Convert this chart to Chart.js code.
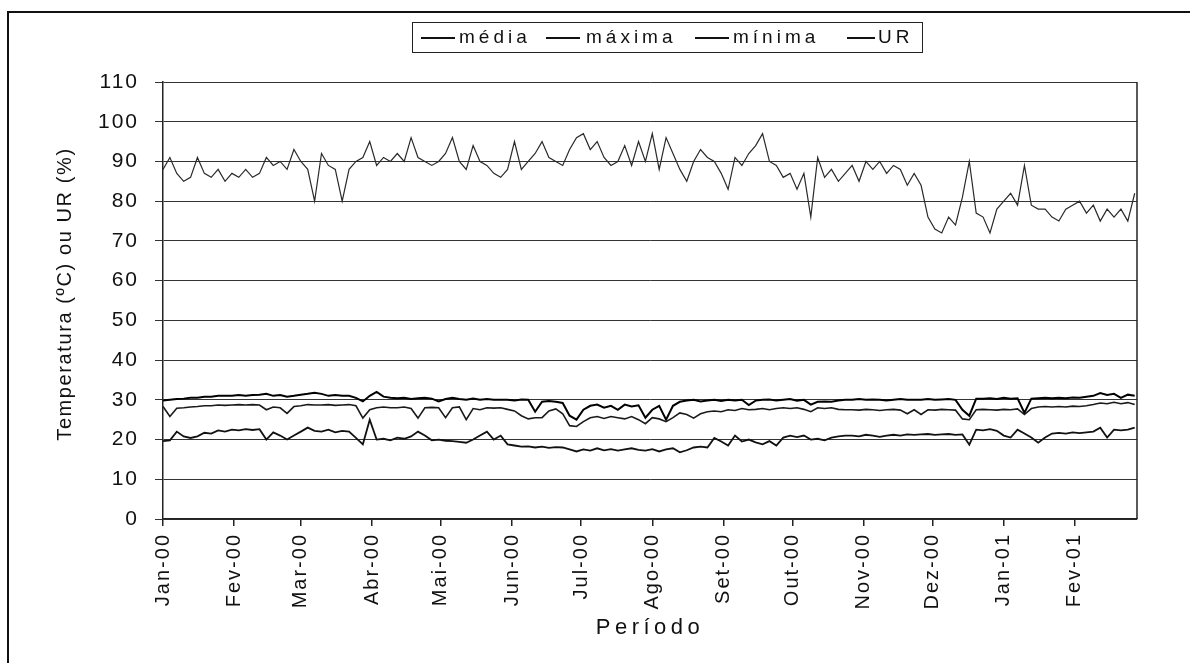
<!DOCTYPE html>
<html lang="pt">
<head>
<meta charset="utf-8">
<title>Temperatura e UR</title>
<script src="https://cdn.jsdelivr.net/npm/chart.js@4.4.1/dist/chart.umd.min.js"></script>
<style>
  body { margin: 0; background: #fff; font-family: Arial, "Liberation Sans", sans-serif; color: #111; }
  #wrap { position: relative; width: 1190px; height: 663px; overflow: hidden; }
  #chart { position: absolute; left: 0; top: 0; }
  .frame { position: absolute; left: 7px; top: 11px; width: 1200px; height: 700px;
           border-top: 2px solid #111; border-left: 2px solid #111; }
  .legend { position: absolute; left: 412px; top: 22px; width: 509px; height: 29px;
            border: 1.5px solid #222; }
  .legend .ln { position: absolute; top: 14px; height: 1.5px; background: #111; }
  .legend .tx { position: absolute; top: 3px; font-size: 19px; letter-spacing: 4px; line-height: 22px; }
  .ytitle { position: absolute; left: 64px; top: 294px; transform: translate(-50%, -50%) rotate(-90deg);
            white-space: nowrap; font-size: 20px; letter-spacing: 1.6px; }
  .xtitle { position: absolute; left: 650px; top: 627px; transform: translate(-50%, -50%);
            white-space: nowrap; font-size: 22px; letter-spacing: 4.5px; }
</style>
</head>
<body>
<div id="wrap">
  <canvas id="chart" width="1190" height="663"></canvas>
  <div class="frame"></div>
  <div class="legend">
    <div class="ln" style="left:8px;width:34px"></div><div class="tx" style="left:46px">média</div>
    <div class="ln" style="left:133px;width:34px"></div><div class="tx" style="left:173px">máxima</div>
    <div class="ln" style="left:282px;width:34px"></div><div class="tx" style="left:320px">mínima</div>
    <div class="ln" style="left:434px;width:28px"></div><div class="tx" style="left:465px">UR</div>
  </div>
  <div class="ytitle">Temperatura (ºC) ou UR (%)</div>
  <div class="xtitle">Período</div>
</div>

<script>
// month ticks (day offset from 1 Jan 2000)
const monthLabels = ['Jan-00','Fev-00','Mar-00','Abr-00','Mai-00','Jun-00','Jul-00','Ago-00','Set-00','Out-00','Nov-00','Dez-00','Jan-01','Fev-01'];
const monthStart = [0,31,60,91,121,152,182,213,244,274,305,335,366,397];

// sampled days
const days = [
  0,3,6,9,12,15,18,21,24,27, 30,33,36,39,42,45,48,51,54,57,
  60,63,66,69,72,75,78,81,84,87, 90,93,96,99,102,105,108,111,114,117,
  120,123,126,129,132,135,138,141,144,147, 150,153,156,159,162,165,168,171,174,177,
  180,183,186,189,192,195,198,201,204,207, 210,213,216,219,222,225,228,231,234,237,
  240,243,246,249,252,255,258,261,264,267, 270,273,276,279,282,285,288,291,294,297,
  300,303,306,309,312,315,318,321,324,327, 330,333,336,339,342,345,348,351,354,357,
  360,363,366,369,372,375,378,381,384,387, 390,393,396,399,402,405,408,411,414,417,
  420,423
];

const media = [
  28.3,25.8,27.9,28,28.2,28.3,28.5,28.5,28.7,28.6, 28.7,28.8,28.7,28.8,28.7,27.5,28.2,28,26.6,28.3,
  28.5,28.8,28.7,28.7,28.8,28.6,28.7,28.8,28.5,25.4, 27.5,28,28.2,28,28,28.2,27.8,25.4,28,28.1,
  28,25.5,28,28.2,25,27.8,27.5,28,27.9,28, 27.6,27.2,26,25.2,25.5,25.5,27.2,27.7,26.5,23.5,
  23.3,24.5,25.5,25.8,25.3,25.8,25.5,25.2,25.8,25, 24,25.5,25.2,24.5,25.5,26.7,26.3,25.4,26.5,27,
  27.2,27,27.5,27.3,27.8,27.5,27.6,27.8,27.5,27.8, 28,27.8,28,27.6,27,28,27.8,28,27.6,27.5,
  27.5,27.4,27.6,27.5,27.3,27.5,27.6,27.4,26.5,27.5, 26.3,27.5,27.4,27.6,27.5,27.4,25.2,25,27.5,27.6,
  27.5,27.4,27.6,27.5,27.7,26.3,27.8,28.2,28.3,28.2, 28.3,28.2,28.4,28.3,28.5,28.8,29.2,29,29.4,29,
  29.3,28.8
];

const maxima = [
  29.8,30,30.2,30.3,30.5,30.5,30.8,30.8,31,31, 31,31.2,31,31.2,31.3,31.5,31,31.2,30.8,31,
  31.3,31.5,31.8,31.5,31,31.2,31,31,30.5,29.6, 31,32,30.8,30.5,30.4,30.5,30.2,30.4,30.5,30.3,
  29.6,30.2,30.5,30.2,30,30.3,30,30.2,30,30, 30,29.8,30.1,30,27,29.5,29.7,29.5,29.2,26,
  25,27.5,28.5,28.8,28,28.5,27.5,28.8,28.3,28.6, 25.5,27.5,28.5,25,28.5,29.5,29.8,30,29.6,29.8,
  30,29.7,30,29.8,30,28.7,29.8,30,30.1,29.8, 30,30.2,29.8,30,28.8,29.5,29.6,29.5,29.8,30,
  30,30.2,30,30.1,30,29.8,30,30.2,30,30, 30,30.2,30,30.1,30.2,30,27.5,26,30.3,30.3,
  30.4,30.2,30.5,30.3,30.4,26.7,30.3,30.4,30.5,30.4, 30.5,30.4,30.6,30.5,30.8,31,31.7,31.2,31.5,30.5,
  31.3,31
];

const minima = [
  19.6,19.8,22,20.8,20.4,20.8,21.7,21.5,22.3,22, 22.5,22.3,22.6,22.4,22.6,20,21.8,21,20,21,
  22,23,22.2,22,22.5,21.8,22.2,22,20.4,18.8, 25,20,20.2,19.8,20.5,20.2,20.8,22,21,19.8,
  20,19.7,19.6,19.4,19.2,20,21,22,20,21, 18.8,18.5,18.2,18.3,18,18.2,17.9,18.1,18,17.5,
  17,17.5,17.2,17.8,17.3,17.6,17.2,17.5,17.8,17.4, 17.2,17.6,17,17.5,17.8,16.8,17.3,18,18.2,18,
  20.4,19.5,18.5,21,19.5,20,19.3,18.8,19.6,18.5, 20.5,21,20.6,21,20,20.2,19.8,20.5,20.8,21,
  21,20.8,21.2,21,20.7,21,21.2,21,21.3,21.2, 21.3,21.4,21.2,21.3,21.4,21.2,21.3,18.7,22.5,22.3,
  22.6,22.2,21,20.5,22.5,21.5,20.5,19.2,20.5,21.5, 21.7,21.5,21.8,21.6,21.8,22,23,20.5,22.5,22.3,
  22.5,23
];

const ur = [
  88,91,87,85,86,91,87,86,88,85, 87,86,88,86,87,91,89,90,88,93,
  90,88,80,92,89,88,80,88,90,91, 95,89,91,90,92,90,96,91,90,89,
  90,92,96,90,88,94,90,89,87,86, 88,95,88,90,92,95,91,90,89,93,
  96,97,93,95,91,89,90,94,89,95, 90,97,88,96,92,88,85,90,93,91,
  90,87,83,91,89,92,94,97,90,89, 86,87,83,87,76,91,86,88,85,87,
  89,85,90,88,90,87,89,88,84,87, 84,76,73,72,76,74,81,90,77,76,
  72,78,80,82,79,89,79,78,78,76, 75,78,79,80,77,79,75,78,76,78,
  75,82
];

const yMin = 0, yMax = 110, yStep = 10;
const lastDay = 424;

function toPoints(values) {
    return days.map((d, i) => ({ x: d, y: values[i] }));
}

// canvas text spacing, like the printed axis labels
const textSpacing = {
    id: 'textSpacing',
    beforeLayout(chart) { chart.ctx.letterSpacing = '2px'; },
    beforeDraw(chart) { chart.ctx.letterSpacing = '2px'; }
};

// right edge of the plot area
const plotBorder = {
    id: 'plotBorder',
    afterDraw(chart) {
        const { ctx, chartArea } = chart;
        ctx.save();
        ctx.strokeStyle = '#222';
        ctx.lineWidth = 1.5;
        ctx.beginPath();
        ctx.moveTo(chartArea.right, chartArea.top);
        ctx.lineTo(chartArea.right, chartArea.bottom);
        ctx.stroke();
        ctx.restore();
    }
};

document.addEventListener('DOMContentLoaded', function() {
    const ctx = document.getElementById('chart').getContext('2d');
    const family = 'Arial, "Liberation Sans", sans-serif';

    new Chart(ctx, {
        type: 'line',
        data: {
            datasets: [
                { label: 'média', data: toPoints(media), borderColor: '#1a1a1a', borderWidth: 1.6 },
                { label: 'máxima', data: toPoints(maxima), borderColor: '#000', borderWidth: 2 },
                { label: 'mínima', data: toPoints(minima), borderColor: '#111', borderWidth: 1.8 },
                { label: 'UR', data: toPoints(ur), borderColor: '#2a2a2a', borderWidth: 1.2 }
            ]
        },
        options: {
            responsive: false,
            devicePixelRatio: 1,
            animation: false,
            elements: { point: { radius: 0 }, line: { tension: 0 } },
            layout: { padding: { top: 82, right: 53, left: 0, bottom: 0 } },
            plugins: { legend: { display: false }, tooltip: { enabled: false } },
            scales: {
                x: {
                    type: 'linear',
                    min: 0,
                    max: lastDay,
                    afterBuildTicks(scale) {
                        scale.ticks = monthStart.map(v => ({ value: v }));
                    },
                    afterFit(scale) { scale.height = 144; },
                    ticks: {
                        autoSkip: false,
                        minRotation: 90,
                        maxRotation: 90,
                        padding: 7,
                        color: '#111',
                        font: { family, size: 20 },
                        callback: (v) => monthLabels[monthStart.indexOf(v)]
                    },
                    grid: { drawOnChartArea: false, drawTicks: true, tickLength: 7, color: '#222', lineWidth: 1.5 },
                    border: { color: '#222', width: 1.5 }
                },
                y: {
                    min: yMin,
                    max: yMax,
                    afterFit(scale) { scale.width = 163; },
                    ticks: { stepSize: yStep, padding: 16, color: '#111', font: { family, size: 21 } },
                    grid: { color: '#333', lineWidth: 1, tickLength: 8 },
                    border: { color: '#222', width: 1.5 }
                }
            }
        },
        plugins: [textSpacing, plotBorder]
    });
});
</script>
</body>
</html>
